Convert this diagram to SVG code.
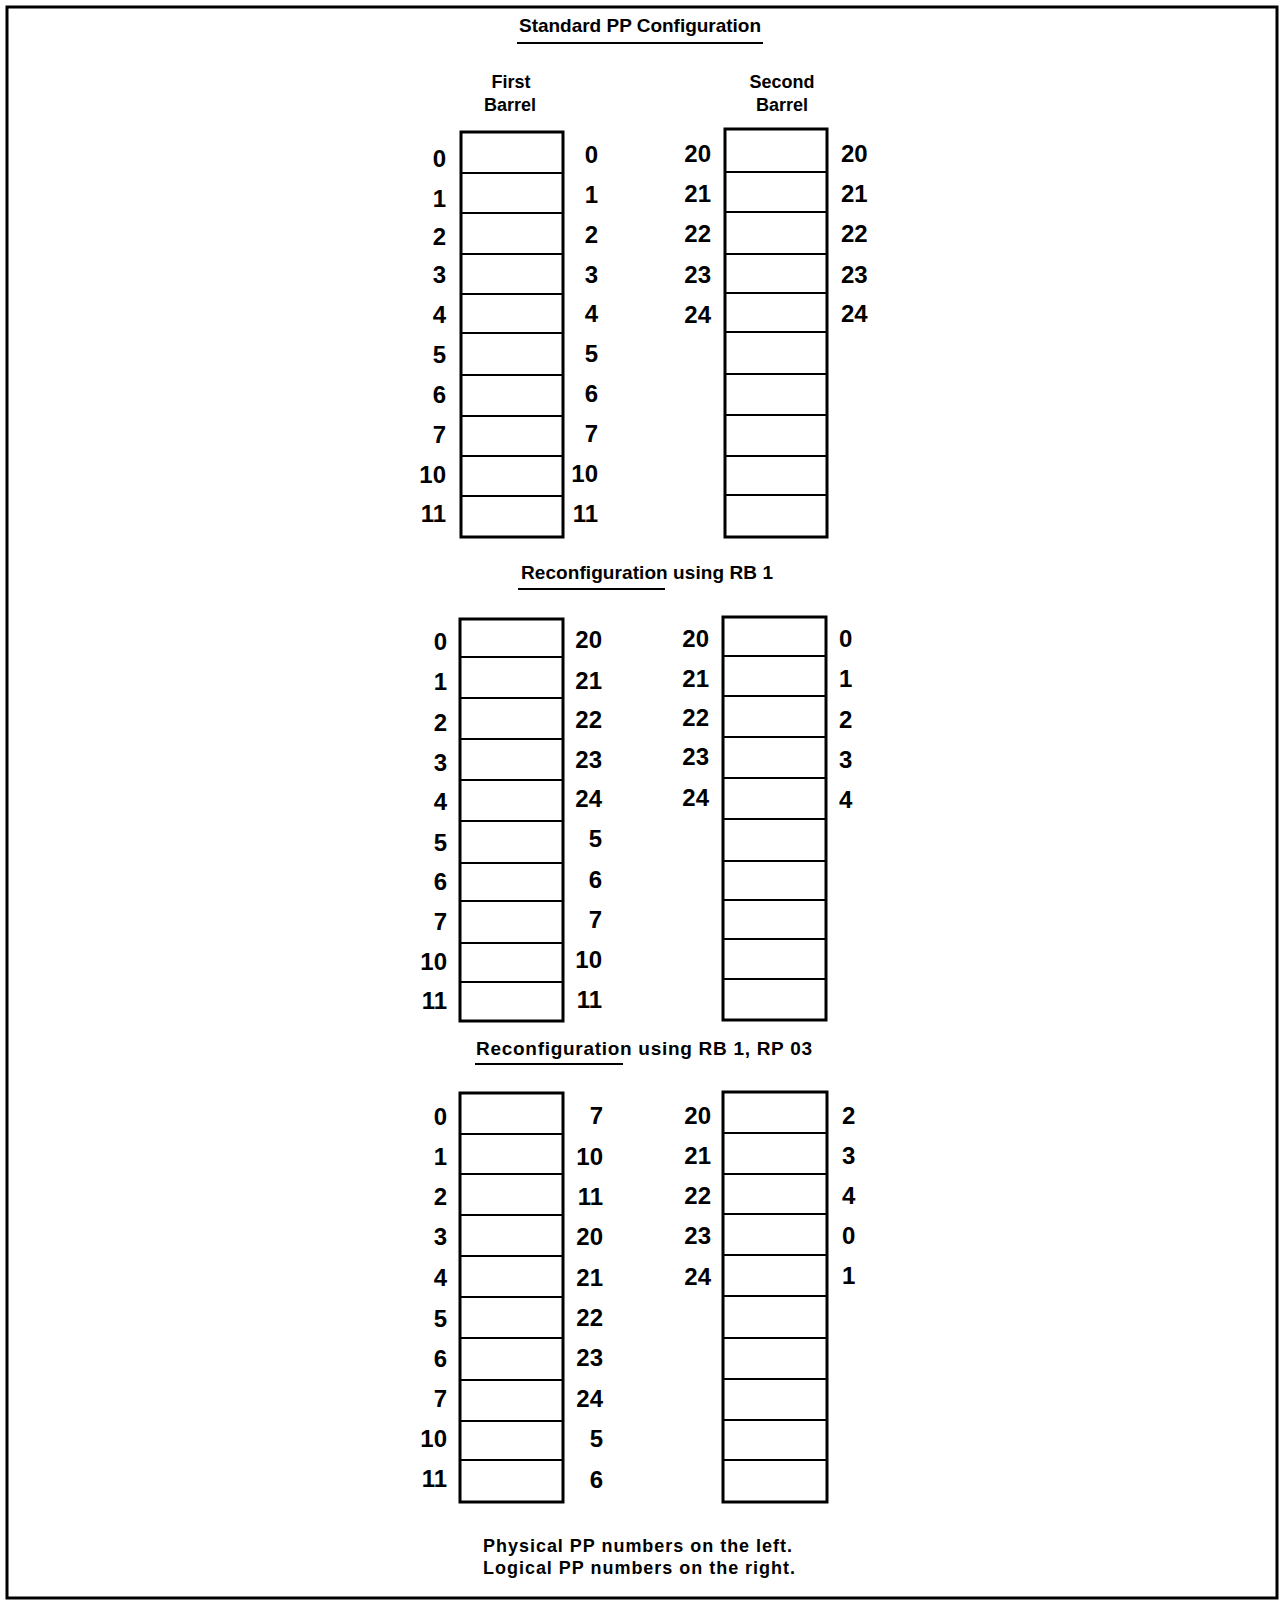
<svg xmlns="http://www.w3.org/2000/svg" width="1282" height="1600" viewBox="0 0 1282 1600">
<style>
.page{fill:#fff;stroke:#000;stroke-width:3}
.box{fill:#fff;stroke:#000;stroke-width:3}
.dv{stroke:#000;stroke-width:2}
.ul{stroke:#000;stroke-width:2}
text{font-family:"Liberation Sans",Arial,sans-serif;font-weight:bold;fill:#000}
.n{font-size:24px}
.l{text-anchor:end}
.r{text-anchor:end}
.s{text-anchor:start}
.t{font-size:19px}
.h{font-size:18px;text-anchor:middle}
.f{font-size:18px}
</style>
<rect x="0" y="0" width="1282" height="1600" fill="#fff"/>
<rect class="page" x="7" y="7" width="1270" height="1591"/>

<g id="title1">
<text class="t" x="519" y="32" textLength="242" lengthAdjust="spacing">Standard PP Configuration</text>
<line class="ul" x1="517" y1="43" x2="763" y2="43"/>
</g>
<g id="head-first">
<text class="h" x="511" y="88">First</text>
<text class="h" x="510" y="111">Barrel</text>
</g>
<g id="head-second">
<text class="h" x="782" y="88">Second</text>
<text class="h" x="782" y="111">Barrel</text>
</g>

<!-- Section 1 -->
<g id="s1-first">
<rect class="box" x="461" y="132" width="102" height="405"/>
<line class="dv" x1="461" y1="173" x2="563" y2="173"/>
<line class="dv" x1="461" y1="213" x2="563" y2="213"/>
<line class="dv" x1="461" y1="254" x2="563" y2="254"/>
<line class="dv" x1="461" y1="294" x2="563" y2="294"/>
<line class="dv" x1="461" y1="333" x2="563" y2="333"/>
<line class="dv" x1="461" y1="375" x2="563" y2="375"/>
<line class="dv" x1="461" y1="416" x2="563" y2="416"/>
<line class="dv" x1="461" y1="456" x2="563" y2="456"/>
<line class="dv" x1="461" y1="496" x2="563" y2="496"/>
<text class="n l" x="446" y="167">0</text>
<text class="n l" x="446" y="207">1</text>
<text class="n l" x="446" y="245">2</text>
<text class="n l" x="446" y="283">3</text>
<text class="n l" x="446" y="323">4</text>
<text class="n l" x="446" y="363">5</text>
<text class="n l" x="446" y="403">6</text>
<text class="n l" x="446" y="443">7</text>
<text class="n l" x="446" y="483">10</text>
<text class="n l" x="446" y="522">11</text>
<text class="n r" x="598" y="163">0</text>
<text class="n r" x="598" y="203">1</text>
<text class="n r" x="598" y="243">2</text>
<text class="n r" x="598" y="283">3</text>
<text class="n r" x="598" y="322">4</text>
<text class="n r" x="598" y="362">5</text>
<text class="n r" x="598" y="402">6</text>
<text class="n r" x="598" y="442">7</text>
<text class="n r" x="598" y="482">10</text>
<text class="n r" x="598" y="522">11</text>
</g>
<g id="s1-second">
<rect class="box" x="725" y="129" width="102" height="408"/>
<line class="dv" x1="725" y1="172" x2="827" y2="172"/>
<line class="dv" x1="725" y1="212" x2="827" y2="212"/>
<line class="dv" x1="725" y1="254" x2="827" y2="254"/>
<line class="dv" x1="725" y1="293" x2="827" y2="293"/>
<line class="dv" x1="725" y1="332" x2="827" y2="332"/>
<line class="dv" x1="725" y1="374" x2="827" y2="374"/>
<line class="dv" x1="725" y1="415" x2="827" y2="415"/>
<line class="dv" x1="725" y1="456" x2="827" y2="456"/>
<line class="dv" x1="725" y1="495" x2="827" y2="495"/>
<text class="n l" x="711" y="162">20</text>
<text class="n l" x="711" y="202">21</text>
<text class="n l" x="711" y="242">22</text>
<text class="n l" x="711" y="283">23</text>
<text class="n l" x="711" y="323">24</text>
<text class="n s" x="841" y="162">20</text>
<text class="n s" x="841" y="202">21</text>
<text class="n s" x="841" y="242">22</text>
<text class="n s" x="841" y="283">23</text>
<text class="n s" x="841" y="322">24</text>
</g>

<!-- Section 2 -->
<g id="title2">
<text class="t" x="521" y="579" textLength="252" lengthAdjust="spacing">Reconfiguration using RB 1</text>
<line class="ul" x1="518" y1="589" x2="665" y2="589"/>
</g>
<g id="s2-first">
<rect class="box" x="460" y="619" width="103" height="402"/>
<line class="dv" x1="460" y1="657" x2="563" y2="657"/>
<line class="dv" x1="460" y1="698" x2="563" y2="698"/>
<line class="dv" x1="460" y1="739" x2="563" y2="739"/>
<line class="dv" x1="460" y1="780" x2="563" y2="780"/>
<line class="dv" x1="460" y1="821" x2="563" y2="821"/>
<line class="dv" x1="460" y1="863" x2="563" y2="863"/>
<line class="dv" x1="460" y1="901" x2="563" y2="901"/>
<line class="dv" x1="460" y1="943" x2="563" y2="943"/>
<line class="dv" x1="460" y1="982" x2="563" y2="982"/>
<text class="n l" x="447" y="650">0</text>
<text class="n l" x="447" y="690">1</text>
<text class="n l" x="447" y="731">2</text>
<text class="n l" x="447" y="771">3</text>
<text class="n l" x="447" y="810">4</text>
<text class="n l" x="447" y="851">5</text>
<text class="n l" x="447" y="890">6</text>
<text class="n l" x="447" y="930">7</text>
<text class="n l" x="447" y="970">10</text>
<text class="n l" x="447" y="1009">11</text>
<text class="n r" x="602" y="648">20</text>
<text class="n r" x="602" y="689">21</text>
<text class="n r" x="602" y="728">22</text>
<text class="n r" x="602" y="768">23</text>
<text class="n r" x="602" y="807">24</text>
<text class="n r" x="602" y="847">5</text>
<text class="n r" x="602" y="888">6</text>
<text class="n r" x="602" y="928">7</text>
<text class="n r" x="602" y="968">10</text>
<text class="n r" x="602" y="1008">11</text>
</g>
<g id="s2-second">
<rect class="box" x="723" y="617" width="103" height="403"/>
<line class="dv" x1="723" y1="656" x2="826" y2="656"/>
<line class="dv" x1="723" y1="696" x2="826" y2="696"/>
<line class="dv" x1="723" y1="737" x2="826" y2="737"/>
<line class="dv" x1="723" y1="778" x2="826" y2="778"/>
<line class="dv" x1="723" y1="819" x2="826" y2="819"/>
<line class="dv" x1="723" y1="861" x2="826" y2="861"/>
<line class="dv" x1="723" y1="900" x2="826" y2="900"/>
<line class="dv" x1="723" y1="939" x2="826" y2="939"/>
<line class="dv" x1="723" y1="979" x2="826" y2="979"/>
<text class="n l" x="709" y="647">20</text>
<text class="n l" x="709" y="687">21</text>
<text class="n l" x="709" y="726">22</text>
<text class="n l" x="709" y="765">23</text>
<text class="n l" x="709" y="806">24</text>
<text class="n s" x="839" y="647">0</text>
<text class="n s" x="839" y="687">1</text>
<text class="n s" x="839" y="728">2</text>
<text class="n s" x="839" y="768">3</text>
<text class="n s" x="839" y="808">4</text>
</g>

<!-- Section 3 -->
<g id="title3">
<text class="t" x="476" y="1055" textLength="336" lengthAdjust="spacing">Reconfiguration using RB 1, RP 03</text>
<line class="ul" x1="475" y1="1064" x2="623" y2="1064"/>
</g>
<g id="s3-first">
<rect class="box" x="460" y="1093" width="103" height="409"/>
<line class="dv" x1="460" y1="1134" x2="563" y2="1134"/>
<line class="dv" x1="460" y1="1174" x2="563" y2="1174"/>
<line class="dv" x1="460" y1="1215" x2="563" y2="1215"/>
<line class="dv" x1="460" y1="1256" x2="563" y2="1256"/>
<line class="dv" x1="460" y1="1297" x2="563" y2="1297"/>
<line class="dv" x1="460" y1="1338" x2="563" y2="1338"/>
<line class="dv" x1="460" y1="1380" x2="563" y2="1380"/>
<line class="dv" x1="460" y1="1421" x2="563" y2="1421"/>
<line class="dv" x1="460" y1="1460" x2="563" y2="1460"/>
<text class="n l" x="447" y="1125">0</text>
<text class="n l" x="447" y="1165">1</text>
<text class="n l" x="447" y="1205">2</text>
<text class="n l" x="447" y="1245">3</text>
<text class="n l" x="447" y="1286">4</text>
<text class="n l" x="447" y="1327">5</text>
<text class="n l" x="447" y="1367">6</text>
<text class="n l" x="447" y="1407">7</text>
<text class="n l" x="447" y="1447">10</text>
<text class="n l" x="447" y="1487">11</text>
<text class="n r" x="603" y="1124">7</text>
<text class="n r" x="603" y="1165">10</text>
<text class="n r" x="603" y="1205">11</text>
<text class="n r" x="603" y="1245">20</text>
<text class="n r" x="603" y="1286">21</text>
<text class="n r" x="603" y="1326">22</text>
<text class="n r" x="603" y="1366">23</text>
<text class="n r" x="603" y="1407">24</text>
<text class="n r" x="603" y="1447">5</text>
<text class="n r" x="603" y="1488">6</text>
</g>
<g id="s3-second">
<rect class="box" x="723" y="1092" width="104" height="410"/>
<line class="dv" x1="723" y1="1133" x2="827" y2="1133"/>
<line class="dv" x1="723" y1="1174" x2="827" y2="1174"/>
<line class="dv" x1="723" y1="1214" x2="827" y2="1214"/>
<line class="dv" x1="723" y1="1255" x2="827" y2="1255"/>
<line class="dv" x1="723" y1="1296" x2="827" y2="1296"/>
<line class="dv" x1="723" y1="1338" x2="827" y2="1338"/>
<line class="dv" x1="723" y1="1379" x2="827" y2="1379"/>
<line class="dv" x1="723" y1="1420" x2="827" y2="1420"/>
<line class="dv" x1="723" y1="1460" x2="827" y2="1460"/>
<text class="n l" x="711" y="1124">20</text>
<text class="n l" x="711" y="1164">21</text>
<text class="n l" x="711" y="1204">22</text>
<text class="n l" x="711" y="1244">23</text>
<text class="n l" x="711" y="1285">24</text>
<text class="n s" x="842" y="1124">2</text>
<text class="n s" x="842" y="1164">3</text>
<text class="n s" x="842" y="1204">4</text>
<text class="n s" x="842" y="1244">0</text>
<text class="n s" x="842" y="1284">1</text>
</g>

<g id="footer">
<text class="f" x="483" y="1552" textLength="309" lengthAdjust="spacing">Physical PP numbers on the left.</text>
<text class="f" x="483" y="1574" textLength="312" lengthAdjust="spacing">Logical PP numbers on the right.</text>
</g>
<g id="connectors"></g>
</svg>
